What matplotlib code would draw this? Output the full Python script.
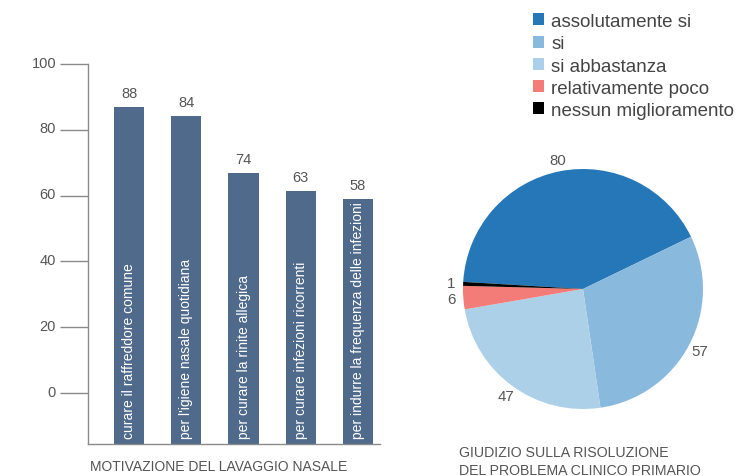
import matplotlib
matplotlib.use("Agg")
import matplotlib.pyplot as plt
import matplotlib.transforms as mtransforms
from matplotlib.patches import Patch

plt.rcParams['font.family'] = ['Liberation Sans', 'DejaVu Sans']

# bar chart data
motivations = ["curare il raffreddore comune",
               "per l'igiene nasale quotidiana",
               "per curare la rinite allegica",
               "per curare infezioni ricorrenti",
               "per indurre la frequenza delle infezioni"]
bar_heights = [86.9, 84.2, 66.9, 61.4, 59.0]
bar_labels = [88, 84, 74, 63, 58]
y_ticks = [0, 20, 40, 60, 80, 100]

# pie chart data
judgements = ["assolutamente si", "si", "si abbastanza",
              "relativamente poco", "nessun miglioramento"]
judgement_counts = [80, 57, 47, 6, 1]
pie_colors = ["#2677b8", "#8ab9de", "#acd0e8", "#f47c78", "#000000"]

text_gray = "#555555"
line_gray = "#8a8a8a"
bar_color = "#4f6a8b"

fig = plt.figure(figsize=(7.42, 4.77), dpi=100)

# ---- bars ----
ax = fig.add_axes([0.1186, 0.0671, 0.3935, 0.7966])
ymin = -15.5
x = list(range(len(bar_heights)))
ax.bar(x, [h - ymin for h in bar_heights], bottom=ymin, width=0.526,
       color=bar_color)
ax.set_xlim(-0.719, 4.386)
ax.set_ylim(ymin, 100)

for xi, h, lab, txt in zip(x, bar_heights, bar_labels, motivations):
    ax.annotate(str(lab), (xi, h), xytext=(0, 10), textcoords="offset points",
                ha="center", va="center", fontsize=10.5, color=text_gray)
    ax.text(xi, ymin + 1.8, txt, rotation=90, ha="center", va="bottom",
            color="white", fontsize=10)

for s in ["top", "right"]:
    ax.spines[s].set_visible(False)
for s in ["left", "bottom"]:
    ax.spines[s].set_color(line_gray)
    ax.spines[s].set_linewidth(1)
ax.set_xticks([])
ax.set_yticks(y_ticks)
ax.set_yticklabels([str(t) for t in y_ticks])
ax.tick_params(axis="y", direction="out", length=20, width=1,
               color=line_gray, labelcolor=text_gray, labelsize=10.5, pad=3)
offset = mtransforms.ScaledTranslation(0, 3 / 100, fig.dpi_scale_trans)
for lbl in ax.get_yticklabels():
    lbl.set_transform(lbl.get_transform() + offset)

fig.text(90 / 742, 10 / 477, "MOTIVAZIONE DEL LAVAGGIO NASALE",
         ha="left", va="center", fontsize=10, color=text_gray)

# ---- pie ----
pax = fig.add_axes([0.5431, 0.01468, 0.4852, 0.7547])
wedges, texts = pax.pie(judgement_counts, colors=pie_colors,
                        labels=[str(v) for v in judgement_counts],
                        labeldistance=1.1, startangle=176.6,
                        counterclock=False,
                        textprops=dict(fontsize=10.8, color=text_gray))
for t in texts:
    t.set_ha("center")
    t.set_va("center")
pax.set_xlim(-1.5, 1.5)
pax.set_ylim(-1.5, 1.5)
pax.set_aspect("equal")
pax.axis("off")

fig.text(459 / 742, (477 - 446) / 477,
         "GIUDIZIO SULLA RISOLUZIONE\nDEL PROBLEMA CLINICO PRIMARIO",
         ha="left", va="top", fontsize=10.2, color=text_gray, linespacing=1.4)

handles = [Patch(facecolor=c, edgecolor="none") for c in pie_colors]
fig.legend(handles, judgements, loc="upper left",
           bbox_to_anchor=(533 / 742, 1 - 14 / 477), frameon=False,
           fontsize=13.5, labelcolor="#444444", handlelength=0.6,
           handleheight=0.6, handletextpad=0.37, labelspacing=0.28,
           borderaxespad=0, borderpad=0)

fig.savefig("out.png", dpi=100)
